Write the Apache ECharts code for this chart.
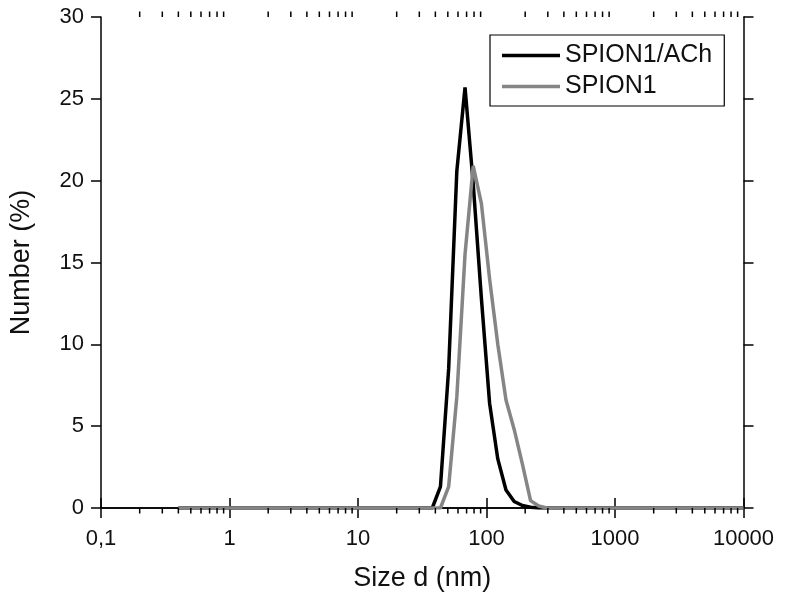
<!DOCTYPE html>
<html>
<head>
<meta charset="utf-8">
<script src="https://cdn.jsdelivr.net/npm/echarts@6/dist/echarts.min.js"></script>
<style>
html,body{margin:0;padding:0;background:#fff;}
#chart{width:787px;height:599px;}
</style>
</head>
<body>
<div id="chart"></div>
<script>
// Size bins (nm)
var sizes = [
  0.4, 0.4632, 0.5365, 0.6213, 0.7195, 0.8332, 0.9649, 1.117, 1.294, 1.499,
  1.736, 2.010, 2.328, 2.696, 3.122, 3.615, 4.187, 4.849, 5.615, 6.503,
  7.531, 8.721, 10.10, 11.70, 13.54, 15.69, 18.17, 21.04, 24.36, 28.21,
  32.67, 37.84, 43.82, 50.75, 58.77, 68.06, 78.82, 91.28, 105.7, 122.4,
  141.8, 164.2, 190.1, 220.2, 255.0, 295.3, 342.0, 396.1, 458.7, 531.2,
  615.1, 712.4, 825.0, 955.4, 1106, 1281, 1484, 1718, 1990, 2305,
  2669, 3091, 3580, 4145, 4801, 5560, 6439, 7456, 8635, 10000
];
// Number (%) for SPION1/ACh
var achValues = [
  0, 0, 0, 0, 0, 0, 0, 0, 0, 0,
  0, 0, 0, 0, 0, 0, 0, 0, 0, 0,
  0, 0, 0, 0, 0, 0, 0, 0, 0, 0,
  0, 0, 1.3, 8.5, 20.6, 25.7, 19.8, 12.8, 6.4, 3.0,
  1.1, 0.4, 0.15, 0.05, 0, 0, 0, 0, 0, 0,
  0, 0, 0, 0, 0, 0, 0, 0, 0, 0,
  0, 0, 0, 0, 0, 0, 0, 0, 0, 0
];
// Number (%) for SPION1
var spionValues = [
  0, 0, 0, 0, 0, 0, 0, 0, 0, 0,
  0, 0, 0, 0, 0, 0, 0, 0, 0, 0,
  0, 0, 0, 0, 0, 0, 0, 0, 0, 0,
  0, 0, 0, 1.3, 6.8, 15.5, 20.9, 18.6, 14.0, 10.0,
  6.6, 4.8, 2.7, 0.45, 0.12, 0, 0, 0, 0, 0,
  0, 0, 0, 0, 0, 0, 0, 0, 0, 0,
  0, 0, 0, 0, 0, 0, 0, 0, 0, 0
];
var seriesNames = ['SPION1/ACh', 'SPION1'];
var xTickLabels = {0.1: '0,1', 1: '1', 10: '10', 100: '100', 1000: '1000', 10000: '10000'};
var decades = [0.1, 1, 10, 100, 1000];
var minorMultipliers = [2, 3, 4, 5, 6, 7, 8, 9];

var FONT = '"Liberation Sans", Arial, Helvetica, sans-serif';

function pairs(xs, ys) {
  var out = [];
  for (var i = 0; i < xs.length; i++) out.push([xs[i], ys[i]]);
  return out;
}
var minorTicks = [];
decades.forEach(function (d) {
  minorMultipliers.forEach(function (m) { minorTicks.push([d * m, 0]); });
});

var chart = echarts.init(document.getElementById('chart'), null, {renderer: 'canvas'});
var axisLine = {show: true, lineStyle: {color: '#000', width: 1.5}};
var option = {
  backgroundColor: '#fff',
  animation: false,
  textStyle: {fontFamily: FONT},
  grid: {left: 99.5, right: 43.5, top: 17, bottom: 91, containLabel: false},
  legend: {
    data: [
      {name: seriesNames[0], icon: 'rect', itemStyle: {color: '#000'}},
      {name: seriesNames[1], icon: 'rect', itemStyle: {color: '#858585'}}
    ],
    orient: 'vertical',
    left: 490,
    top: 35,
    padding: [8, 12, 7, 12],
    itemGap: 6,
    itemWidth: 58,
    itemHeight: 3.5,
    borderColor: '#000',
    borderWidth: 1.2,
    backgroundColor: '#fff',
    textStyle: {fontFamily: FONT, fontSize: 25, color: '#111', lineHeight: 25, height: 25}
  },
  xAxis: [{
    type: 'log',
    logBase: 10,
    min: 0.1,
    max: 10000,
    position: 'bottom',
    axisLine: axisLine,
    axisTick: {show: true, inside: false, length: 10, lineStyle: {color: '#000', width: 1.5}},
    splitLine: {show: false},
    axisLabel: {
      fontFamily: FONT, fontSize: 22, color: '#111', margin: 20,
      formatter: function (v) {
        var key = Math.round(Math.log10(v));
        var val = Math.pow(10, key);
        return xTickLabels[val] !== undefined ? xTickLabels[val] : '';
      }
    },
    name: 'Size d (nm)',
    nameLocation: 'middle',
    nameGap: 57,
    nameTextStyle: {fontFamily: FONT, fontSize: 27, color: '#111'}
  }, {
    type: 'log',
    logBase: 10,
    min: 0.1,
    max: 10000,
    position: 'top',
    axisLine: axisLine,
    axisTick: {show: true, inside: false, length: 10, lineStyle: {color: '#000', width: 1.5}},
    axisLabel: {show: false},
    splitLine: {show: false}
  }],
  yAxis: [{
    type: 'value',
    min: 0,
    max: 30,
    interval: 5,
    position: 'left',
    axisLine: axisLine,
    axisTick: {show: true, inside: false, length: 10, lineStyle: {color: '#000', width: 1.5}},
    splitLine: {show: false},
    axisLabel: {fontFamily: FONT, fontSize: 22, color: '#111', margin: 17},
    name: 'Number (%)',
    nameLocation: 'middle',
    nameGap: 66,
    nameTextStyle: {fontFamily: FONT, fontSize: 27, color: '#111'}
  }, {
    type: 'value',
    min: 0,
    max: 30,
    interval: 5,
    position: 'right',
    axisLine: axisLine,
    axisTick: {show: true, inside: false, length: 10, lineStyle: {color: '#000', width: 1.5}},
    axisLabel: {show: false},
    splitLine: {show: false}
  }],
  series: [{
    name: seriesNames[0],
    type: 'line',
    xAxisIndex: 0,
    yAxisIndex: 0,
    data: pairs(sizes, achValues),
    symbol: 'none',
    smooth: false,
    lineStyle: {color: '#000', width: 3.5},
    itemStyle: {color: '#000'},
    z: 3
  }, {
    name: seriesNames[1],
    type: 'line',
    xAxisIndex: 0,
    yAxisIndex: 0,
    data: pairs(sizes, spionValues),
    symbol: 'none',
    smooth: false,
    lineStyle: {color: '#858585', width: 3.5},
    itemStyle: {color: '#858585'},
    z: 4
  }, {
    name: 'minorTicks',
    type: 'custom',
    xAxisIndex: 0,
    yAxisIndex: 0,
    silent: true,
    clip: false,
    data: minorTicks,
    encode: {x: 0, y: 1},
    renderItem: function (params, api) {
      var v = api.value(0);
      var pb = api.coord([v, 0]);
      var pt = api.coord([v, 30]);
      var st = {stroke: '#000', lineWidth: 1.5};
      return {
        type: 'group',
        children: [
          {type: 'line', shape: {x1: pb[0], y1: pb[1], x2: pb[0], y2: pb[1] + 5.5}, style: st},
          {type: 'line', shape: {x1: pt[0], y1: pt[1], x2: pt[0], y2: pt[1] - 5.5}, style: st}
        ]
      };
    },
    z: 5
  }]
};
chart.setOption(option);
</script>
</body>
</html>
